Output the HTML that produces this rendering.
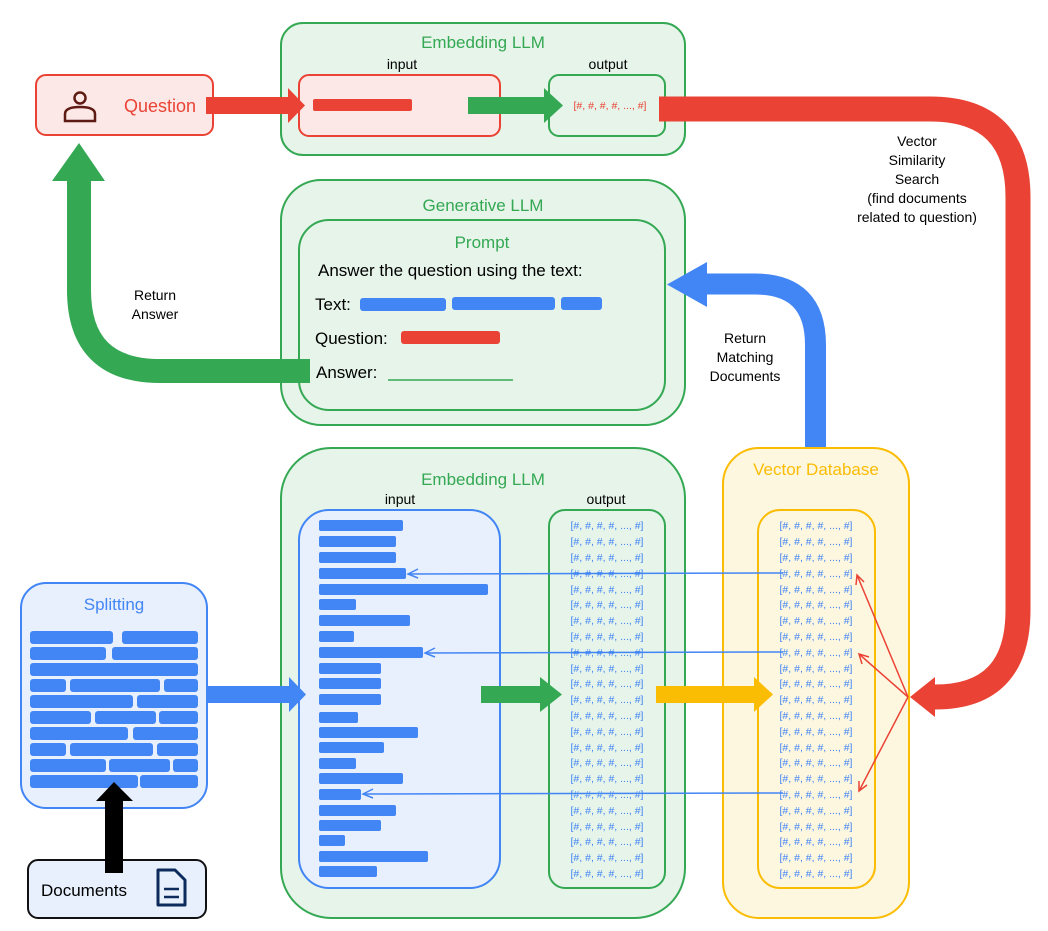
<!DOCTYPE html>
<html><head><meta charset="utf-8"><style>
html,body{margin:0;padding:0;background:#fff;}
svg{display:block;font-family:"Liberation Sans",sans-serif;}
</style></head><body>
<svg width="1048" height="931" viewBox="0 0 1048 931" xmlns="http://www.w3.org/2000/svg">
<rect x="281" y="23" width="404" height="132" rx="22" fill="#e6f4ea" stroke="#34a853" stroke-width="2"/>
<text x="483" y="48" font-size="17" fill="#34a853" text-anchor="middle">Embedding LLM</text>
<text x="402" y="69" font-size="14" fill="#000" text-anchor="middle">input</text>
<text x="608" y="69" font-size="14" fill="#000" text-anchor="middle">output</text>
<rect x="299" y="75" width="201" height="61" rx="10" fill="#fce8e6" stroke="#ea4335" stroke-width="2"/>
<rect x="549" y="75" width="116" height="61" rx="10" fill="#e6f4ea" stroke="#34a853" stroke-width="2"/>
<rect x="313" y="99" width="99" height="12" rx="2" fill="#ea4335"/>
<text x="610" y="109" font-size="10.5" fill="#ea4335" text-anchor="middle">[#, #, #, #, ..., #]</text>
<rect x="36" y="75" width="177" height="60" rx="10" fill="#fce8e6" stroke="#ea4335" stroke-width="2"/>
<circle cx="80" cy="98" r="5.5" fill="none" stroke="#5f1a14" stroke-width="2.5"/>
<path d="M65 121 V114 Q65 107 80 107 Q95 107 95 114 V121 Z" fill="none" stroke="#5f1a14" stroke-width="2.5"/>
<text x="124" y="112" font-size="18" fill="#ea4335">Question</text>
<rect x="206" y="97" width="84" height="17" fill="#ea4335"/>
<polygon points="288,88 305,105.5 288,123" fill="#ea4335"/>
<rect x="468" y="97" width="78" height="17" fill="#34a853"/>
<polygon points="544,88 563,105.5 544,123" fill="#34a853"/>
<path d="M659 109 H930 Q1018 109 1018 197 V610 Q1018 697 935 697" fill="none" stroke="#ea4335" stroke-width="25"/>
<polygon points="935,677 910,697 935,717" fill="#ea4335"/>
<g font-size="14" fill="#000" text-anchor="middle">
<text x="917" y="146">Vector</text>
<text x="917" y="165">Similarity</text>
<text x="917" y="184">Search</text>
<text x="917" y="203">(find documents</text>
<text x="917" y="222">related to question)</text>
</g>
<rect x="281" y="180" width="404" height="245" rx="40" fill="#e6f4ea" stroke="#34a853" stroke-width="2"/>
<text x="483" y="211" font-size="17" fill="#34a853" text-anchor="middle">Generative LLM</text>
<rect x="299" y="220" width="366" height="190" rx="30" fill="#e6f4ea" stroke="#34a853" stroke-width="2"/>
<text x="482" y="248" font-size="17" fill="#34a853" text-anchor="middle">Prompt</text>
<text x="318" y="276" font-size="17" fill="#000">Answer the question using the text:</text>
<text x="315" y="310" font-size="17" fill="#000">Text:</text>
<rect x="360" y="298" width="86" height="13" rx="3" fill="#4285f4"/>
<rect x="452" y="297" width="103" height="13" rx="3" fill="#4285f4"/>
<rect x="561" y="297" width="41" height="13" rx="3" fill="#4285f4"/>
<text x="315" y="344" font-size="17" fill="#000">Question:</text>
<rect x="401" y="331" width="99" height="13" rx="3" fill="#ea4335"/>
<text x="316" y="378" font-size="17" fill="#000">Answer:</text>
<line x1="388" y1="380" x2="513" y2="380" stroke="#34a853" stroke-width="1.5"/>
<path d="M310 371 H160 Q79 371 79 290 V178" fill="none" stroke="#34a853" stroke-width="24"/>
<polygon points="52,181 79,143 105,181" fill="#34a853"/>
<text x="155" y="300" font-size="14" fill="#000" text-anchor="middle">Return</text>
<text x="155" y="319" font-size="14" fill="#000" text-anchor="middle">Answer</text>
<path d="M815.5 463 V345 Q815.5 284 755 284 H705" fill="none" stroke="#4285f4" stroke-width="21"/>
<polygon points="707,262 667,284.5 707,307" fill="#4285f4"/>
<g font-size="14" fill="#000" text-anchor="middle">
<text x="745" y="343">Return</text>
<text x="745" y="362">Matching</text>
<text x="745" y="381">Documents</text>
</g>
<rect x="281" y="448" width="404" height="470" rx="50" fill="#e6f4ea" stroke="#34a853" stroke-width="2"/>
<text x="483" y="485" font-size="17" fill="#34a853" text-anchor="middle">Embedding LLM</text>
<text x="400" y="504" font-size="14" fill="#000" text-anchor="middle">input</text>
<text x="606" y="504" font-size="14" fill="#000" text-anchor="middle">output</text>
<rect x="299" y="510" width="201" height="378" rx="30" fill="#e8f0fe" stroke="#4285f4" stroke-width="2"/>
<rect x="549" y="510" width="116" height="378" rx="16" fill="#e6f4ea" stroke="#34a853" stroke-width="2"/>
<rect x="723" y="448" width="186" height="470" rx="36" fill="#fef7e0" stroke="#fbbc04" stroke-width="2"/>
<text x="816" y="475" font-size="17" fill="#fbbc04" text-anchor="middle">Vector Database</text>
<rect x="758" y="510" width="117" height="378" rx="22" fill="#fef7e0" stroke="#fbbc04" stroke-width="2"/>
<g fill="#4285f4">
<rect x="319" y="520" width="84" height="11" rx="2"/>
<rect x="319" y="536" width="77" height="11" rx="2"/>
<rect x="319" y="552" width="77" height="11" rx="2"/>
<rect x="319" y="568" width="87" height="11" rx="2"/>
<rect x="319" y="584" width="169" height="11" rx="2"/>
<rect x="319" y="599" width="37" height="11" rx="2"/>
<rect x="319" y="615" width="91" height="11" rx="2"/>
<rect x="319" y="631" width="35" height="11" rx="2"/>
<rect x="319" y="647" width="104" height="11" rx="2"/>
<rect x="319" y="663" width="62" height="11" rx="2"/>
<rect x="319" y="678" width="62" height="11" rx="2"/>
<rect x="319" y="694" width="62" height="11" rx="2"/>
<rect x="319" y="712" width="39" height="11" rx="2"/>
<rect x="319" y="727" width="99" height="11" rx="2"/>
<rect x="319" y="742" width="65" height="11" rx="2"/>
<rect x="319" y="758" width="37" height="11" rx="2"/>
<rect x="319" y="773" width="84" height="11" rx="2"/>
<rect x="319" y="789" width="42" height="11" rx="2"/>
<rect x="319" y="805" width="77" height="11" rx="2"/>
<rect x="319" y="820" width="62" height="11" rx="2"/>
<rect x="319" y="835" width="26" height="11" rx="2"/>
<rect x="319" y="851" width="109" height="11" rx="2"/>
<rect x="319" y="866" width="58" height="11" rx="2"/>
</g>
<g font-size="10.5" fill="#4285f4" text-anchor="middle">
<text x="607" y="529">[#, #, #, #, ..., #]</text><text x="816" y="529">[#, #, #, #, ..., #]</text>
<text x="607" y="545">[#, #, #, #, ..., #]</text><text x="816" y="545">[#, #, #, #, ..., #]</text>
<text x="607" y="561">[#, #, #, #, ..., #]</text><text x="816" y="561">[#, #, #, #, ..., #]</text>
<text x="607" y="577">[#, #, #, #, ..., #]</text><text x="816" y="577">[#, #, #, #, ..., #]</text>
<text x="607" y="593">[#, #, #, #, ..., #]</text><text x="816" y="593">[#, #, #, #, ..., #]</text>
<text x="607" y="608">[#, #, #, #, ..., #]</text><text x="816" y="608">[#, #, #, #, ..., #]</text>
<text x="607" y="624">[#, #, #, #, ..., #]</text><text x="816" y="624">[#, #, #, #, ..., #]</text>
<text x="607" y="640">[#, #, #, #, ..., #]</text><text x="816" y="640">[#, #, #, #, ..., #]</text>
<text x="607" y="656">[#, #, #, #, ..., #]</text><text x="816" y="656">[#, #, #, #, ..., #]</text>
<text x="607" y="672">[#, #, #, #, ..., #]</text><text x="816" y="672">[#, #, #, #, ..., #]</text>
<text x="607" y="687">[#, #, #, #, ..., #]</text><text x="816" y="687">[#, #, #, #, ..., #]</text>
<text x="607" y="703">[#, #, #, #, ..., #]</text><text x="816" y="703">[#, #, #, #, ..., #]</text>
<text x="607" y="719">[#, #, #, #, ..., #]</text><text x="816" y="719">[#, #, #, #, ..., #]</text>
<text x="607" y="735">[#, #, #, #, ..., #]</text><text x="816" y="735">[#, #, #, #, ..., #]</text>
<text x="607" y="751">[#, #, #, #, ..., #]</text><text x="816" y="751">[#, #, #, #, ..., #]</text>
<text x="607" y="766">[#, #, #, #, ..., #]</text><text x="816" y="766">[#, #, #, #, ..., #]</text>
<text x="607" y="782">[#, #, #, #, ..., #]</text><text x="816" y="782">[#, #, #, #, ..., #]</text>
<text x="607" y="798">[#, #, #, #, ..., #]</text><text x="816" y="798">[#, #, #, #, ..., #]</text>
<text x="607" y="814">[#, #, #, #, ..., #]</text><text x="816" y="814">[#, #, #, #, ..., #]</text>
<text x="607" y="830">[#, #, #, #, ..., #]</text><text x="816" y="830">[#, #, #, #, ..., #]</text>
<text x="607" y="845">[#, #, #, #, ..., #]</text><text x="816" y="845">[#, #, #, #, ..., #]</text>
<text x="607" y="861">[#, #, #, #, ..., #]</text><text x="816" y="861">[#, #, #, #, ..., #]</text>
<text x="607" y="877">[#, #, #, #, ..., #]</text><text x="816" y="877">[#, #, #, #, ..., #]</text>
</g>
<g stroke="#4285f4" stroke-width="1.5" fill="none">
<line x1="783" y1="573" x2="408" y2="574"/><polyline points="418,569 408,574 418,578"/>
<line x1="783" y1="652" x2="425" y2="653"/><polyline points="435,648 425,653 435,657"/>
<line x1="783" y1="793" x2="363" y2="794"/><polyline points="373,789 363,794 373,798"/>
</g>
<g stroke="#ea4335" stroke-width="1.5" fill="none">
<line x1="908" y1="697" x2="857" y2="575"/><polyline points="856,585 857,575 864,582"/>
<line x1="908" y1="697" x2="859" y2="654"/><polyline points="862,664 859,654 869,657"/>
<line x1="908" y1="697" x2="859" y2="791"/><polyline points="859,781 859,791 867,785"/>
</g>
<rect x="481" y="686" width="60" height="17" fill="#34a853"/>
<polygon points="540,677 562,694.5 540,712" fill="#34a853"/>
<rect x="656" y="686" width="100" height="17" fill="#fbbc04"/>
<polygon points="754,677 773,694.5 754,712" fill="#fbbc04"/>
<rect x="203" y="686" width="88" height="17" fill="#4285f4"/>
<polygon points="289,677 306,694.5 289,712" fill="#4285f4"/>
<rect x="21" y="583" width="186" height="225" rx="25" fill="#e8f0fe" stroke="#4285f4" stroke-width="2"/>
<text x="114" y="610" font-size="17" fill="#4285f4" text-anchor="middle">Splitting</text>
<g fill="#4285f4">
<rect x="30" y="631" width="83" height="13" rx="3"/><rect x="122" y="631" width="76" height="13" rx="3"/>
<rect x="30" y="647" width="76" height="13" rx="3"/><rect x="112" y="647" width="86" height="13" rx="3"/>
<rect x="30" y="663" width="168" height="13" rx="3"/>
<rect x="30" y="679" width="36" height="13" rx="3"/><rect x="70" y="679" width="90" height="13" rx="3"/><rect x="164" y="679" width="34" height="13" rx="3"/>
<rect x="30" y="695" width="103" height="13" rx="3"/><rect x="137" y="695" width="61" height="13" rx="3"/>
<rect x="30" y="711" width="61" height="13" rx="3"/><rect x="95" y="711" width="61" height="13" rx="3"/><rect x="159" y="711" width="39" height="13" rx="3"/>
<rect x="30" y="727" width="98" height="13" rx="3"/><rect x="133" y="727" width="65" height="13" rx="3"/>
<rect x="30" y="743" width="36" height="13" rx="3"/><rect x="70" y="743" width="83" height="13" rx="3"/><rect x="157" y="743" width="41" height="13" rx="3"/>
<rect x="30" y="759" width="76" height="13" rx="3"/><rect x="109" y="759" width="61" height="13" rx="3"/><rect x="173" y="759" width="25" height="13" rx="3"/>
<rect x="30" y="775" width="108" height="13" rx="3"/><rect x="140" y="775" width="58" height="13" rx="3"/>
</g>
<rect x="28" y="860" width="178" height="58" rx="10" fill="#e8f0fe" stroke="#111" stroke-width="2"/>
<text x="41" y="896" font-size="17" fill="#000">Documents</text>
<path d="M158 870 H175 L185 880 V905 H158 Z" fill="none" stroke="#0d2a5c" stroke-width="3" stroke-linejoin="round"/>
<line x1="164" y1="889" x2="179" y2="889" stroke="#0d2a5c" stroke-width="2.5"/>
<line x1="164" y1="897" x2="179" y2="897" stroke="#0d2a5c" stroke-width="2.5"/>
<rect x="105" y="798" width="18" height="75" fill="#000"/>
<polygon points="96,801 114,782 133,801" fill="#000"/>
</svg>
</body></html>
